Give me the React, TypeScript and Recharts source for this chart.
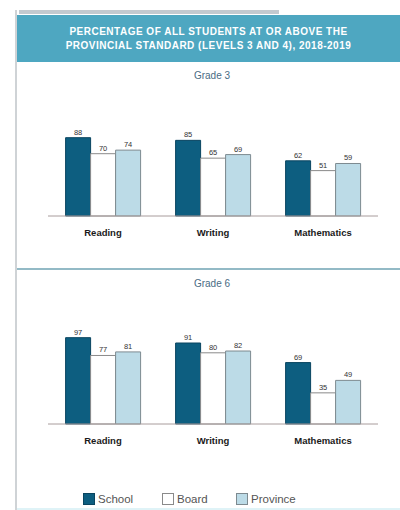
import React from 'react';
import { BarChart, Bar, XAxis, YAxis, LabelList } from 'recharts';

const categories = ['Reading', 'Writing', 'Mathematics'];
const seriesNames = ['School', 'Board', 'Province'];
const grade3School = [88, 85, 62];
const grade3Board = [70, 65, 51];
const grade3Province = [74, 69, 59];
const grade6School = [97, 91, 69];
const grade6Board = [77, 80, 35];
const grade6Province = [81, 82, 49];

const colors = {
  School: { fill: '#0d5e80', stroke: '#0a4560' },
  Board: { fill: '#ffffff', stroke: '#8a8a8a' },
  Province: { fill: '#bcdbe7', stroke: '#7d8a90' },
};

const FONT = '"Liberation Sans", Arial, sans-serif';

function build(s: number[], b: number[], p: number[]) {
  return categories.map((c, i) => ({ name: c, School: s[i], Board: b[i], Province: p[i] }));
}

function GradeChart({ data }: { data: any[] }) {
  return (
    <BarChart
      width={400}
      height={135}
      data={data}
      margin={{ top: 17, right: 22, bottom: 0, left: 48 }}
      barCategoryGap="16%"
      barGap={0}
    >
      <YAxis hide domain={[0, 100]} />
      <XAxis
        dataKey="name"
        height={29}
        axisLine={{ stroke: '#a89c9c', strokeWidth: 1 }}
        tickLine={false}
        interval={0}
        tick={{ fontSize: 9.5, fontWeight: 700, fill: '#1a1a1a', fontFamily: FONT }}
        dy={5}
      />
      {seriesNames.map((n) => (
        <Bar
          key={n}
          dataKey={n}
          fill={(colors as any)[n].fill}
          stroke={(colors as any)[n].stroke}
          strokeWidth={1}
          isAnimationActive={false}
        >
          <LabelList
            dataKey={n}
            position="top"
            offset={3}
            fill="#333333"
            stroke="none"
            style={{ fontSize: 7.5, fontFamily: FONT }}
          />
        </Bar>
      ))}
    </BarChart>
  );
}

function LegendItem({ name, left }: { name: string; left: number }) {
  const c = (colors as any)[name];
  return (
    <div style={{ position: 'absolute', left, top: 493, display: 'flex', alignItems: 'center' }}>
      <div
        style={{
          width: 12,
          height: 12,
          background: c.fill,
          border: `1px solid ${c.stroke}`,
          boxSizing: 'border-box',
        }}
      />
      <span style={{ marginLeft: 3, fontSize: 11.5, color: '#555', fontFamily: FONT }}>{name}</span>
    </div>
  );
}

export default function App() {
  return (
    <div
      style={{
        position: 'absolute',
        left: 0,
        top: 0,
        width: 400,
        height: 510,
        background: '#ffffff',
        overflow: 'hidden',
        fontFamily: FONT,
      }}
    >
      {/* left border */}
      <div style={{ position: 'absolute', left: 15, top: 10, width: 2, height: 500, background: '#cfd3d6' }} />
      {/* top cut strip */}
      <div style={{ position: 'absolute', left: 19, top: 10, width: 260, height: 4, background: '#c3c9cf' }} />
      {/* header */}
      <div
        style={{
          position: 'absolute',
          left: 17,
          top: 15,
          width: 383,
          height: 47,
          background: '#4ea7c1',
          color: '#ffffff',
          textAlign: 'center',
          fontWeight: 700,
          fontSize: 10,
          lineHeight: '14px',
          paddingTop: 10,
          boxSizing: 'border-box',
          letterSpacing: 0.5,
        }}
      >
        <div>PERCENTAGE OF ALL STUDENTS AT OR ABOVE THE</div>
        <div>PROVINCIAL STANDARD (LEVELS 3 AND 4), 2018-2019</div>
      </div>
      {/* Grade 3 */}
      <div style={{ position: 'absolute', left: 17, width: 390, top: 70, textAlign: 'center', fontSize: 10, color: '#4a6c84' }}>
        Grade 3
      </div>
      <div style={{ position: 'absolute', left: 0, top: 110 }}>
        <GradeChart data={build(grade3School, grade3Board, grade3Province)} />
      </div>
      {/* separator */}
      <div style={{ position: 'absolute', left: 17, top: 268, width: 383, height: 2, background: '#93bac6' }} />
      {/* Grade 6 */}
      <div style={{ position: 'absolute', left: 17, width: 390, top: 278, textAlign: 'center', fontSize: 10, color: '#4a6c84' }}>
        Grade 6
      </div>
      <div style={{ position: 'absolute', left: 0, top: 318 }}>
        <GradeChart data={build(grade6School, grade6Board, grade6Province)} />
      </div>
      {/* legend */}
      <LegendItem name="School" left={83} />
      <LegendItem name="Board" left={162} />
      <LegendItem name="Province" left={236} />
      <div style={{ position: 'absolute', left: 17, top: 508, width: 383, height: 2, background: '#dff3f7' }} />
    </div>
  );
}
